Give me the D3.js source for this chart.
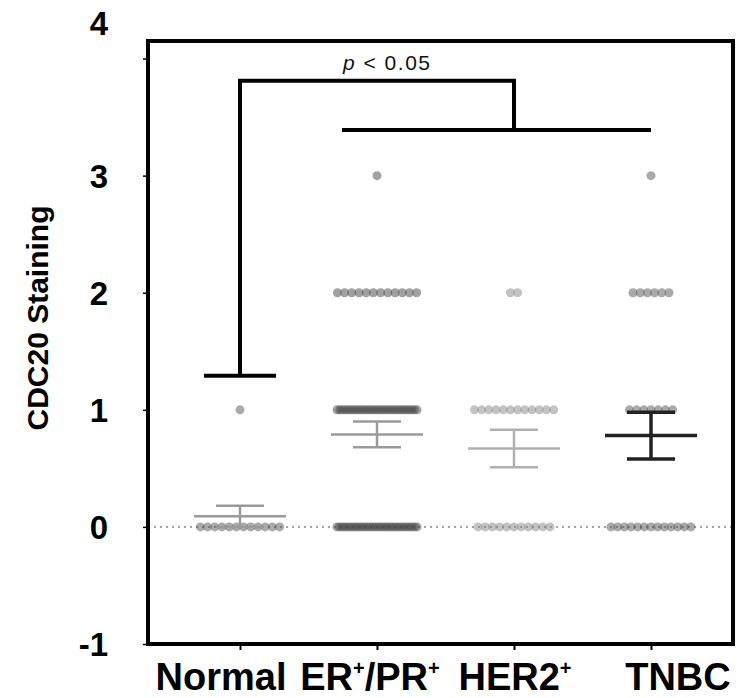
<!DOCTYPE html>
<html>
<head>
<meta charset="utf-8">
<script src="https://cdn.jsdelivr.net/npm/d3@7"></script>
<style>
  html, body { margin: 0; padding: 0; background: #fff; }
  svg { display: block; font-family: "Liberation Sans", Arial, sans-serif; }
</style>
</head>
<body>
<div id="chart"></div>
<script>
// CDC20 staining scatter dot plot

const width = 739;
const height = 698;

// groups and per-score counts (scores 0..3)
const groups = ['Normal', 'ER+/PR+', 'HER2+', 'TNBC'];
const scores = [0, 1, 2, 3];
const normalCounts = [12, 1, 0, 0];
const erprCounts = [30, 30, 12, 1];
const her2Counts = [11, 12, 2, 0];
const tnbcCounts = [13, 7, 6, 1];

// mean and SEM
const means = [0.09, 0.79, 0.67, 0.78];
const sems = [0.09, 0.11, 0.16, 0.20];

// significance bracket levels
const bracketLow = 1.29;
const bracketTop = 3.81;
const bracketGroup = 3.39;
const pLabel = '0.05';

const yTicks = [-1, 0, 1, 2, 3, 4];

const counts = [normalCounts, erprCounts, her2Counts, tnbcCounts];
const errColor = ['#9a9a9a', '#9a9a9a', '#b0b0b0', '#222'];
const dotColor = ['#555', '#444', '#888', '#555'];

const frame = { left: 148, right: 733, top: 41, bottom: 644 };

const svg = d3.select('#chart')
  .append('svg')
  .attr('width', width)
  .attr('height', height);

const x = d3.scalePoint()
  .domain(groups)
  .range([240, 651]);

const y = d3.scaleLinear()
  .domain([-1, 4.15])
  .range([frame.bottom, frame.top]);

// dotted zero line
svg.append('line')
  .attr('x1', frame.left).attr('x2', frame.right)
  .attr('y1', y(0)).attr('y2', y(0))
  .attr('stroke', '#888')
  .attr('stroke-width', 1.5)
  .attr('stroke-dasharray', '2,4');

// dots: each score row spread horizontally, compressed when crowded
const dots = [];
groups.forEach((gname, gi) => {
  scores.forEach((s, si) => {
    const n = counts[gi][si];
    if (!n) return;
    const step = n > 1 ? Math.min(7.2, 80 / (n - 1)) : 0;
    for (let i = 0; i < n; i++) {
      dots.push({ gi: gi, group: gname, value: s, off: (i - (n - 1) / 2) * step });
    }
  });
});

svg.append('g')
  .selectAll('circle')
  .data(dots)
  .enter().append('circle')
  .attr('cx', d => x(d.group) + d.off)
  .attr('cy', d => y(d.value))
  .attr('r', 4.5)
  .attr('fill', d => dotColor[d.gi])
  .attr('fill-opacity', 0.5);

// mean +/- SEM
const eb = svg.append('g');
groups.forEach((gname, gi) => {
  const cx = x(gname);
  const c = errColor[gi];
  const sw = gi === 3 ? 3.5 : 2.5;
  eb.append('line')
    .attr('x1', cx - 46).attr('x2', cx + 46)
    .attr('y1', y(means[gi])).attr('y2', y(means[gi]))
    .attr('stroke', c).attr('stroke-width', sw);
  eb.append('line')
    .attr('x1', cx).attr('x2', cx)
    .attr('y1', y(means[gi] - sems[gi])).attr('y2', y(means[gi] + sems[gi]))
    .attr('stroke', c).attr('stroke-width', sw);
  [-1, 1].forEach(sg => {
    eb.append('line')
      .attr('x1', cx - 24).attr('x2', cx + 24)
      .attr('y1', y(means[gi] + sg * sems[gi])).attr('y2', y(means[gi] + sg * sems[gi]))
      .attr('stroke', c).attr('stroke-width', sw);
  });
});

// significance bracket
const br = svg.append('g')
  .attr('fill', 'none')
  .attr('stroke', '#000')
  .attr('stroke-width', 4);
const xN = x('Normal');
const xMid = (x('ER+/PR+') + x('TNBC')) / 2;
br.append('line')
  .attr('x1', xN - 36).attr('x2', xN + 36)
  .attr('y1', y(bracketLow)).attr('y2', y(bracketLow));
br.append('path')
  .attr('d', `M${xN},${y(bracketLow)}V${y(bracketTop)}H${xMid}V${y(bracketGroup)}`);
br.append('line')
  .attr('x1', x('ER+/PR+') - 35).attr('x2', x('TNBC'))
  .attr('y1', y(bracketGroup)).attr('y2', y(bracketGroup));

const pt = svg.append('text')
  .attr('x', x('ER+/PR+') - 34)
  .attr('y', y(bracketTop) - 11)
  .attr('font-size', 21)
  .attr('fill', '#111')
  .attr('letter-spacing', 1.5);
pt.append('tspan').attr('font-style', 'italic').text('p');
pt.append('tspan').text(' < ' + pLabel);

// frame
svg.append('rect')
  .attr('x', frame.left).attr('y', frame.top)
  .attr('width', frame.right - frame.left)
  .attr('height', frame.bottom - frame.top)
  .attr('fill', 'none')
  .attr('stroke', '#000')
  .attr('stroke-width', 4);

// y axis
const yAxis = svg.append('g')
  .attr('transform', `translate(${frame.left},0)`)
  .call(d3.axisLeft(y).tickValues(yTicks).tickSize(5).tickPadding(35).tickFormat(d => String(d)));
yAxis.select('.domain').remove();
yAxis.selectAll('.tick line').attr('stroke', '#000').attr('stroke-width', 1.5);
yAxis.selectAll('.tick text')
  .attr('font-size', 33)
  .attr('font-weight', 'bold')
  .attr('font-family', '"Liberation Sans", Arial, sans-serif')
  .attr('fill', '#000')
  .attr('dy', d => d === 4 ? '-0.72em' : '0.36em');

// x axis
const xAxis = svg.append('g')
  .attr('transform', `translate(0,${frame.bottom})`)
  .call(d3.axisBottom(x).tickSize(6).tickFormat(''));
xAxis.select('.domain').remove();
xAxis.selectAll('.tick line').attr('stroke', '#000').attr('stroke-width', 2);

const labelShift = [-19, -7, 1, 27];
const xl = svg.append('g')
  .attr('font-size', 38)
  .attr('font-weight', 'bold')
  .attr('text-anchor', 'middle');
groups.forEach((gname, gi) => {
  const t = xl.append('text')
    .attr('x', x(gname) + labelShift[gi])
    .attr('y', 690);
  const parts = gname.split('+');
  let shift = 0;
  parts.forEach((p, pi) => {
    if (p) {
      t.append('tspan').attr('dy', shift).text(p);
      shift = 0;
    }
    if (pi < parts.length - 1) {
      t.append('tspan').attr('font-size', 20).attr('dy', -15).text('+');
      shift = 15;
    }
  });
});

// y title
svg.append('text')
  .attr('transform', `translate(48,318) rotate(-90)`)
  .attr('text-anchor', 'middle')
  .attr('font-size', 30)
  .attr('font-weight', 'bold')
  .text('CDC20 Staining');
</script>
</body>
</html>
